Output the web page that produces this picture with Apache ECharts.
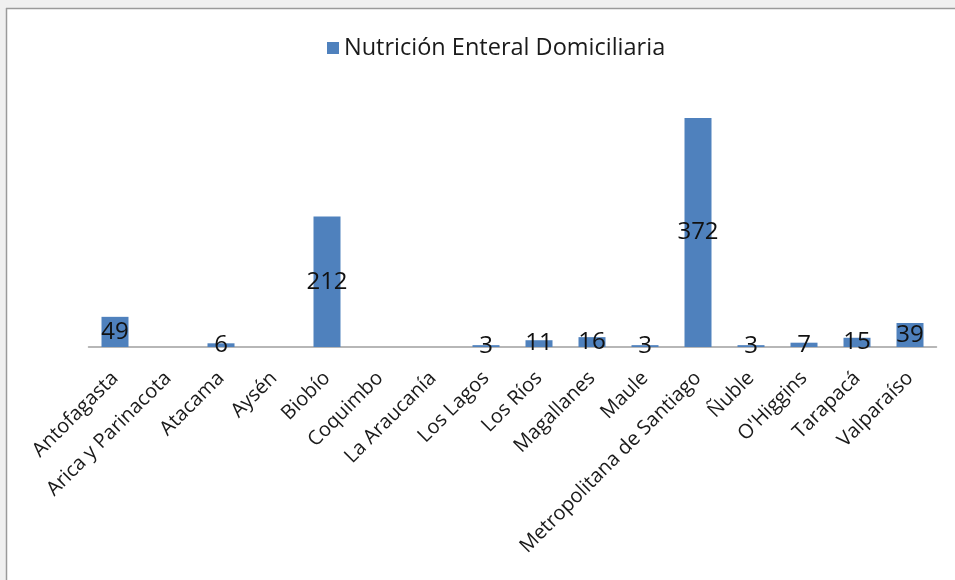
<!DOCTYPE html>
<html>
<head>
<meta charset="utf-8">
<script src="https://cdn.jsdelivr.net/npm/echarts@6/dist/echarts.min.js"></script>
<style>
html,body{margin:0;padding:0;background:#fff;}
#chart{width:955px;height:580px;}
</style>
</head>
<body>
<div id="chart"></div>
<script>
const categories = ["Antofagasta","Arica y Parinacota","Atacama","Aysén","Biobío","Coquimbo","La Araucanía","Los Lagos","Los Ríos","Magallanes","Maule","Metropolitana de Santiago","Ñuble","O'Higgins","Tarapacá","Valparaíso"];
const values = [49,null,6,null,212,null,null,3,11,16,3,372,3,7,15,39];
const seriesName = "Nutrición Enteral Domiciliaria";

const chart = echarts.init(document.getElementById('chart'));
chart.setOption({
  animation:false,
  backgroundColor:'#ffffff',
  graphic:[
    {type:'rect',shape:{x:0,y:0,width:955,height:8},style:{fill:'#f0f0f0'},z:-10},
    {type:'rect',shape:{x:0,y:0,width:6,height:580},style:{fill:'#f0f0f0'},z:-10},
    {type:'line',shape:{x1:6,y1:8.5,x2:955,y2:8.5},style:{stroke:'#9a9a9a',lineWidth:1.5},z:-9},
    {type:'line',shape:{x1:6.5,y1:8,x2:6.5,y2:580},style:{stroke:'#9a9a9a',lineWidth:1.5},z:-9}
  ],
  legend:{
    top:31,left:322,
    itemWidth:12,itemHeight:12,itemGap:6,
    icon:'rect',
    textStyle:{fontFamily:'Open Sans',fontSize:23.5,color:'#1a1a1a'},
    data:[seriesName]
  },
  grid:{left:88.5,right:18.5,top:118,bottom:233,containLabel:false},
  xAxis:{
    type:'category',
    data:categories,
    axisLine:{lineStyle:{color:'#a0a0a0',width:1.5}},
    axisTick:{show:false},
    axisLabel:{rotate:45,interval:0,margin:28,fontFamily:'Open Sans',fontSize:20,color:'#1a1a1a'}
  },
  yAxis:{
    type:'value',min:0,max:372,show:false,
    splitLine:{show:false}
  },
  series:[{
    name:seriesName,
    type:'bar',
    data:values,
    barWidth:27,
    itemStyle:{color:'#4F81BD'},
    label:{show:true,position:'inside',fontFamily:'Open Sans',fontSize:24,color:'#111111'}
  }]
});
</script>
</body>
</html>
